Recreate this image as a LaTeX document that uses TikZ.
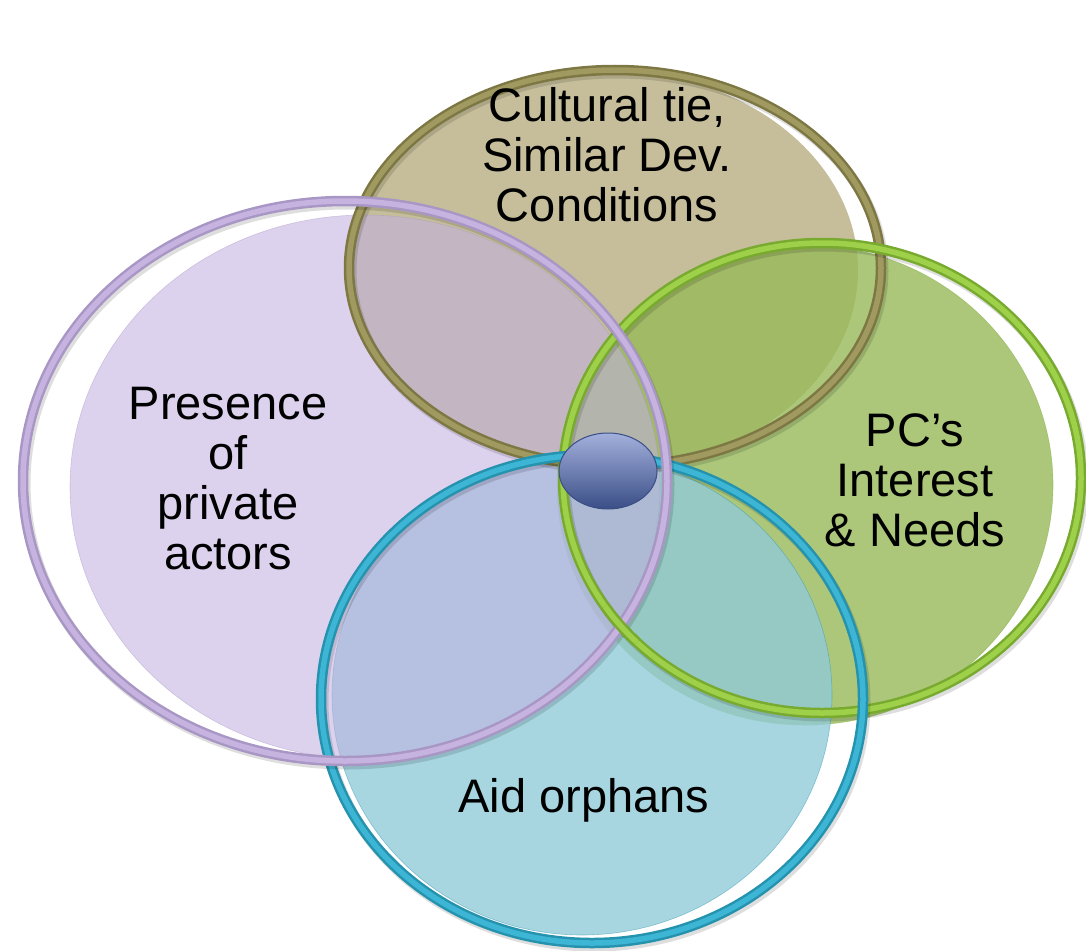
\documentclass[tikz,border=0pt]{standalone}
\usepackage{fontspec}
\setmainfont{Liberation Sans}
\usepackage{tikz}
\usetikzlibrary{shapes.geometric}
\definecolor{vennOlive}{HTML}{7D7743}
\definecolor{vennOliveHi}{HTML}{A09960}
\definecolor{vennTan}{HTML}{C6BE9B}
\definecolor{vennLilac}{HTML}{A896C4}
\definecolor{vennLilacHi}{HTML}{C7B3E0}
\definecolor{vennLilacFill}{HTML}{C2B0E1}
\definecolor{vennLime}{HTML}{78AA30}
\definecolor{vennLimeHi}{HTML}{9ED04A}
\definecolor{vennLimeFill}{HTML}{97B959}
\definecolor{vennCyan}{HTML}{2592AE}
\definecolor{vennCyanHi}{HTML}{3CB6D4}
\definecolor{vennCyanFill}{HTML}{91CBD8}
\definecolor{vennCoreHi}{HTML}{A3B0DC}
\definecolor{vennCore}{HTML}{5E72AA}
\definecolor{vennCoreDk}{HTML}{3A4E86}

\begin{document}
\begin{tikzpicture}[x=1pt,y=-1pt,
    ring/.style={line width=2.5pt,double distance=5.5pt},
    shade/.style={black,opacity=0.13,line width=11pt},
    rim/.style={line width=0.6pt,draw opacity=0.45},
    label/.style={font=\fontsize{47}{50}\selectfont,align=center,text=black,inner sep=0pt}]

  \useasboundingbox (0,0) rectangle (1086,950);

  % the four discs
  \fill[vennTan] (605,270) ellipse [x radius=253,y radius=200];
  \draw[rim,fill=vennLimeFill,fill opacity=0.8,draw=vennLime] (805,485) ellipse [x radius=248,y radius=240];
  \draw[rim,fill=vennCyanFill,fill opacity=0.8,draw=vennCyan] (582,695) ellipse [x radius=250,y radius=240];
  \draw[rim,fill=vennLilacFill,fill opacity=0.57,draw=vennLilac] (365,487) ellipse [x radius=295,y radius=272];

  % rings
  \draw[shade] (617,271) ellipse [x radius=266,y radius=198];
  \draw[ring,draw=vennOlive,double=vennOliveHi] (615,268) ellipse [x radius=266,y radius=198];
  \draw[shade] (824,481) ellipse [x radius=259,y radius=235];
  \draw[ring,draw=vennLime,double=vennLimeHi] (822,478) ellipse [x radius=259,y radius=235];
  \draw[shade] (594,702) ellipse [x radius=271,y radius=244];
  \draw[ring,draw=vennCyan,double=vennCyanHi] (592,699) ellipse [x radius=271,y radius=244];
  \draw[shade] (347,484) ellipse [x radius=322,y radius=280];
  \draw[ring,draw=vennLilac,double=vennLilacHi] (345,481) ellipse [x radius=322,y radius=280];
  \begin{scope}
    \clip (620,625) circle (24);
    \draw[ring,draw=vennLime,double=vennLimeHi] (822,478) ellipse [x radius=259,y radius=235];
  \end{scope}

  \node[ellipse,minimum width=98pt,minimum height=76pt,inner sep=0pt,
        draw=vennCoreDk,line width=1pt,top color=vennCoreHi,middle color=vennCore,
        bottom color=vennCoreDk] (core) at (608,471) {};

  \node[label] (cultural) at (607,155) {Cultural tie,\\Similar Dev.\\Conditions};
  \node[label] (private) at (228,479) {Presence\\of\\private\\actors};
  \node[label] (needs) at (915,480) {PC’s\\Interest\\\& Needs};
  \node[label] (orphans) at (584,800) {Aid orphans};
\end{tikzpicture}
\end{document}
